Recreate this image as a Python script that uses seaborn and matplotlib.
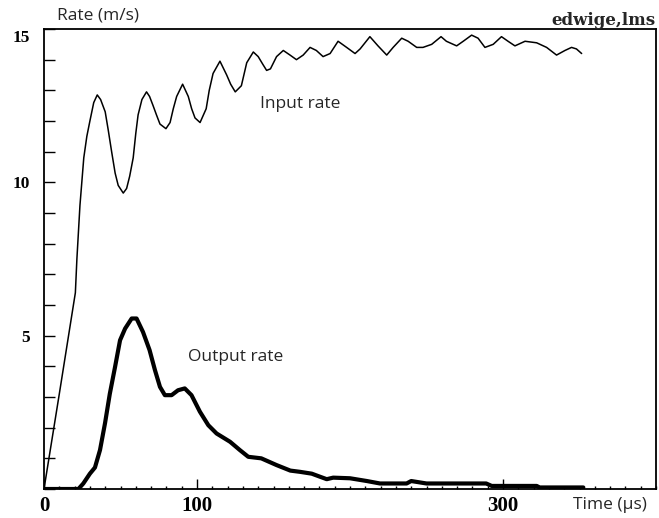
import matplotlib
matplotlib.use("Agg")
import matplotlib.pyplot as plt
import matplotlib.transforms as mtransforms
import seaborn as sns
import pandas as pd
from matplotlib.ticker import MultipleLocator

# Input rate (thin curve), time in us / rate in m/s
input_time = [0, 10, 20.5, 21.5, 23.5, 26, 28, 30, 32.5, 34.8, 37, 40, 42, 44.2,
              46.5, 48.5, 51.8, 54, 56, 58.3, 60, 61.5, 64, 67, 69, 71.3, 73.5,
              75.8, 79.7, 82.4, 84.5, 86.7, 90.6, 94.3, 96.5, 98.7, 102, 106, 108,
              110.5, 115, 119.4, 122, 125, 129, 132.5, 136.8, 140, 143, 145.5,
              148, 152, 156.4, 160.8, 165, 169.4, 173.9, 178, 182.4, 187, 192.2,
              197.8, 203.3, 206.6, 213, 218.3, 224, 228.2, 233.8, 238, 243.6,
              247.7, 253.4, 259.5, 263, 269.7, 274, 279.5, 283.7, 288.2, 293.6,
              299, 303.3, 307.8, 314.4, 322, 328.5, 335, 340.5, 344.8, 348, 351.4]
input_rate = [0, 3.1, 6.4, 7.5, 9.25, 10.8, 11.5, 12.0, 12.6, 12.85, 12.7, 12.3,
              11.7, 11.0, 10.3, 9.9, 9.65, 9.8, 10.2, 10.8, 11.6, 12.2, 12.7,
              12.95, 12.8, 12.5, 12.2, 11.9, 11.75, 11.95, 12.4, 12.8, 13.2, 12.8,
              12.4, 12.1, 11.95, 12.4, 13.0, 13.55, 13.95, 13.5, 13.2, 12.95,
              13.15, 13.9, 14.25, 14.1, 13.85, 13.65, 13.7, 14.1, 14.3, 14.15,
              14.0, 14.15, 14.4, 14.3, 14.1, 14.2, 14.6, 14.4, 14.2, 14.35, 14.75,
              14.45, 14.15, 14.4, 14.7, 14.6, 14.4, 14.4, 14.5, 14.75, 14.6,
              14.45, 14.6, 14.8, 14.7, 14.4, 14.5, 14.75, 14.6, 14.45, 14.6,
              14.55, 14.4, 14.15, 14.3, 14.4, 14.35, 14.2]

# Output rate (thick curve)
output_time = [0, 22.5, 25.7, 30, 33.3, 36.6, 39.9, 43, 46.4, 49.7, 53, 57.3,
               60.5, 64.7, 69, 72.5, 75.8, 79, 83.4, 87.6, 92, 96.4, 101.9, 107.4,
               112.8, 121.6, 128, 133.5, 142, 152, 161, 167.3, 175, 180.4, 184.8,
               189, 200, 211, 219.6, 237, 240, 250, 289, 292.6, 322, 324, 352.5]
output_rate = [0, 0, 0.18, 0.5, 0.7, 1.27, 2.15, 3.1, 3.97, 4.85, 5.23, 5.56,
               5.56, 5.12, 4.53, 3.88, 3.33, 3.06, 3.06, 3.22, 3.28, 3.06, 2.52,
               2.08, 1.81, 1.54, 1.27, 1.05, 1.0, 0.78, 0.6, 0.56, 0.5, 0.4, 0.32,
               0.37, 0.35, 0.26, 0.18, 0.18, 0.26, 0.18, 0.18, 0.1, 0.1, 0.05, 0.05]

x_major = [0, 100, 300]
y_major = [5, 10, 15]

sns.set_theme(style="ticks")
plt.rcParams['font.family'] = ['Open Sans', 'DejaVu Sans']

fig = plt.figure(figsize=(6.59, 5.18), dpi=100)
ax = fig.add_axes([44 / 659, 1 - 489 / 518, 612 / 659, 460 / 518])

inp = pd.DataFrame({'time': input_time, 'rate': input_rate})
out = pd.DataFrame({'time': output_time, 'rate': output_rate})

sns.lineplot(data=inp, x='time', y='rate', color='black', linewidth=1.1,
             estimator=None, sort=False, ax=ax)
sns.lineplot(data=out, x='time', y='rate', color='black', linewidth=3.0,
             estimator=None, sort=False, ax=ax)

ax.set_xlim(0, 400)
ax.set_ylim(0, 15)
ax.set_xlabel('')
ax.set_ylabel('')

# ticks: inward, serif bold labels
ax.set_xticks(x_major, labels=[str(v) for v in x_major],
              fontfamily='Liberation Serif', fontweight='bold', fontsize=15)
ax.set_yticks(y_major, labels=[str(v) for v in y_major],
              fontfamily='Liberation Serif', fontweight='bold', fontsize=12.5)
ax.xaxis.set_minor_locator(MultipleLocator(10))
ax.yaxis.set_minor_locator(MultipleLocator(1))
ax.tick_params(axis='x', which='major', direction='in', length=7, width=1,
               pad=5, bottom=True, colors='black')
ax.tick_params(axis='x', which='minor', direction='in', length=2.5, width=1,
               bottom=True, color='black')
ax.tick_params(axis='y', which='both', direction='in', length=8, width=1,
               pad=10, left=True, colors='black')

# the top "15" label sits a bit below the frame in the original
top_label = ax.get_yticklabels()[-1]
top_label.set_transform(top_label.get_transform() +
                        mtransforms.ScaledTranslation(0, -5 / 72, fig.dpi_scale_trans))

for side in ['top', 'right', 'bottom', 'left']:
    ax.spines[side].set_visible(True)
    ax.spines[side].set_color('black')
    ax.spines[side].set_linewidth(1.3)

# curve annotations
ax.text(141, 12.57, 'Input rate', fontsize=12.5, va='center', ha='left')
ax.text(94, 4.3, 'Output rate', fontsize=12.5, va='center', ha='left')

# axis titles placed like the original
fig.text(57 / 659, 1 - 15 / 518, 'Rate (m/s)', fontsize=12.5, va='center', ha='left')
fig.text(573 / 659, 1 - 505 / 518, 'Time (µs)', fontsize=12.5, va='center', ha='left')
fig.text(656 / 659, 1 - 25 / 518, 'edwige,lms', fontsize=12, fontweight='bold',
         fontfamily='DejaVu Serif', va='baseline', ha='right')

fig.savefig('out.png', dpi=100)
plt.close(fig)
